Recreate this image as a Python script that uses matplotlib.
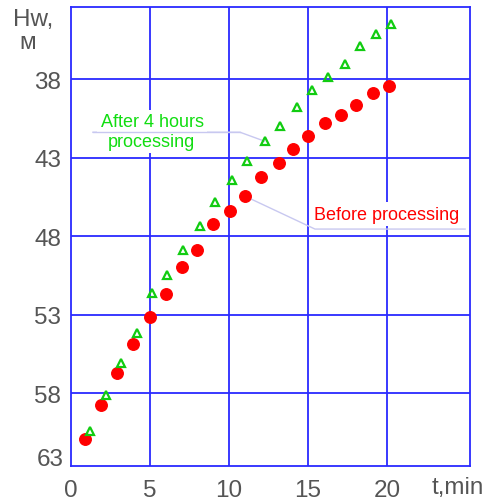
import matplotlib
matplotlib.use("Agg")
import matplotlib.pyplot as plt
from matplotlib import font_manager as fm

# Data
t_before = [0.9, 1.9, 2.9, 3.9, 5.0, 6.0, 7.0, 8.0, 9.0, 10.05, 11.0,
            12.05, 13.15, 14.05, 15.0, 16.05, 17.1, 18.05, 19.1, 20.15]
h_before = [60.9, 58.75, 56.7, 54.9, 53.15, 51.7, 49.95, 48.9, 47.2, 46.4, 45.45,
            44.2, 43.35, 42.45, 41.65, 40.8, 40.25, 39.65, 38.9, 38.45]
t_after = [1.2, 2.2, 3.15, 4.15, 5.15, 6.1, 7.1, 8.15, 9.1, 10.2, 11.15,
           12.25, 13.25, 14.3, 15.25, 16.25, 17.35, 18.3, 19.3, 20.25]
h_after = [60.45, 58.1, 56.1, 54.15, 51.6, 50.5, 48.9, 47.35, 45.85, 44.4, 43.2,
           41.95, 40.95, 39.75, 38.7, 37.85, 37.0, 35.9, 35.15, 34.5]
x_ticks = [0, 5, 10, 15, 20]
y_ticks = [38, 43, 48, 53, 58]
label_after = ["After 4 hours", "processing"]
label_before = "Before processing"

ann_kw = dict(family="Liberation Sans", fontsize=13)
names = {f.name for f in fm.fontManager.ttflist}
if "Liberation Sans Narrow" in names:
    ann_kw = dict(family="Liberation Sans Narrow", fontsize=15)

fig = plt.figure(figsize=(5.0, 5.02), dpi=100)
ax = fig.add_axes([0.142, 0.0697, 0.798, 0.9143])
ax.set_xlim(0, 25.25)
ax.set_ylim(62.65, 33.4)

blue = "#2a2aff"
for v in x_ticks[1:]:
    ax.axvline(v, color=blue, lw=1.3, zorder=1)
for v in y_ticks:
    ax.axhline(v, color=blue, lw=1.3, zorder=1)
for s in ax.spines.values():
    s.set_color(blue)
    s.set_linewidth(1.3)

ax.set_xticks(x_ticks)
ax.set_yticks(y_ticks)
ax.tick_params(axis="y", length=0, labelsize=17.5, labelcolor="#555555", pad=7)
ax.tick_params(axis="x", length=0, labelsize=17.5, labelcolor="#555555", pad=9)
for lab in ax.get_xticklabels() + ax.get_yticklabels():
    lab.set_family("Liberation Sans")
ax.text(-0.45, 62.2, "63", ha="right", va="center", fontsize=17.5, color="#555555",
        family="Liberation Sans")

# leader lines
lc = "#c8c8f0"
ax.plot([1.39, 10.7, t_after[11]], [41.38, 41.38, h_after[11]], color=lc, lw=1, zorder=2)
ax.plot([t_before[10], 15.44, 24.94], [h_before[10], 47.55, 47.55], color=lc, lw=1, zorder=2)

# labels with white boxes
box = dict(facecolor="white", edgecolor="none", pad=2.5)
ax.text(5.13, 40.72, label_after[0], ha="center", va="center", color="#11dd11",
        zorder=3, bbox=box, **ann_kw)
ax.text(5.06, 41.95, label_after[1], ha="center", va="center", color="#11dd11",
        zorder=3, bbox=box, **ann_kw)
ax.plot([1.39, 10.7], [41.38, 41.38], color=lc, lw=1, zorder=3.5)
ax.text(20.0, 46.6, label_before, ha="center", va="center", color="#ff0000",
        zorder=3, bbox=box, **ann_kw)

ax.plot(t_before, h_before, "o", ms=8.3, color="#ff0000", mec="#ff0000", zorder=4)
ax.plot(t_after, h_after, "^", ms=5.5, mfc="none", mec="#11cc11", mew=1.6, zorder=4)

fig.text(33 / 500, 1 - 20 / 502, "Hw,", ha="center", va="center", fontsize=17.5,
         color="#555555", family="Liberation Sans")
fig.text(28 / 500, 1 - 43 / 502, "м", ha="center", va="center", fontsize=17.5,
         color="#555555", family="Liberation Sans")
fig.text(458 / 500, 1 - 488 / 502, "t,min", ha="center", va="center", fontsize=17.5,
         color="#555555", family="Liberation Sans")

fig.savefig("out.png", dpi=100)
